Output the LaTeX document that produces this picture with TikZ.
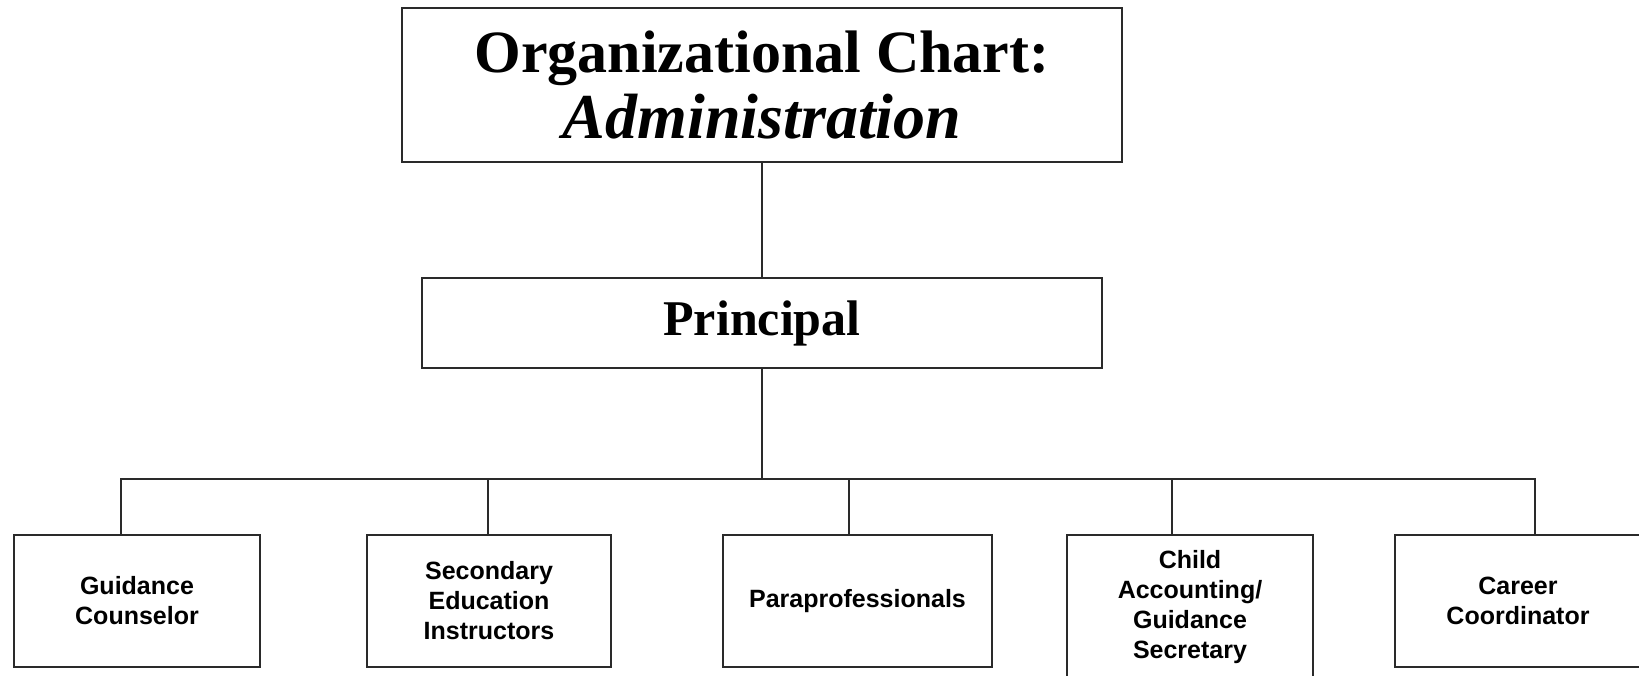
\documentclass[tikz,border=0pt]{standalone}
\usepackage{fontspec}
\usepackage{xcolor}
\setmainfont{Liberation Serif}
\newfontfamily\rolefont{Liberation Sans}
\usepackage{tikz}
\usetikzlibrary{positioning}
\definecolor{edge}{HTML}{2A2A2A}
\tikzset{
  box/.style={draw=edge, line width=2.8pt, inner sep=0pt, align=center},
  headbox/.style={box, font=\fontsize{60}{66}\selectfont\bfseries},
  chiefbox/.style={box, font=\fontsize{50}{54}\selectfont\bfseries},
  rolebox/.style={box, font=\rolefont\fontsize{25}{30}\selectfont\bfseries, minimum height=132pt},
  link/.style={draw=edge, line width=2.8pt, line cap=rect},
}

\begin{document}
\begin{tikzpicture}[x=1pt, y=-1pt]
  \useasboundingbox (0,0) rectangle (1639,676);

  \node[headbox, minimum width=720pt, minimum height=154pt] (title) at (762,85)
    {Organizational Chart:\\{\fontsize{64}{66}\selectfont\textit{Administration}}};
  \node[chiefbox, minimum width=680pt, minimum height=90pt] (principal) at (762,323) {Principal};

  % staff row
  \node[rolebox, minimum width=246pt] (counselor) at (137,601) {Guidance\\Counselor};
  \node[rolebox, minimum width=244pt] (instructors) at (489,601) {Secondary\\Education\\Instructors};
  \node[rolebox, minimum width=269pt] (paras) at (857.5,601) {Paraprofessionals};
  \node[rolebox, minimum width=246pt, minimum height=144pt] (secretary) at (1190,607)
    {Child\\Accounting/\\Guidance\\Secretary};
  \node[rolebox, minimum width=246pt] (career) at (1518,601) {Career\\Coordinator};

  \draw[link] (title.south) -- (principal.north);

  \coordinate (busL) at (121,479);
  \coordinate (busR) at (1535,479);
  \draw[link] (principal.south) -- (principal.south |- busL);
  \draw[link] (busL) -- (busR);

  \foreach \x/\n in {121/counselor, 488/instructors, 849/paras, 1172/secretary, 1535/career} {
    \coordinate (drop-\n) at (\x,479);
    \draw[link] (drop-\n) -- (drop-\n |- \n.north);
  }
\end{tikzpicture}
\end{document}
